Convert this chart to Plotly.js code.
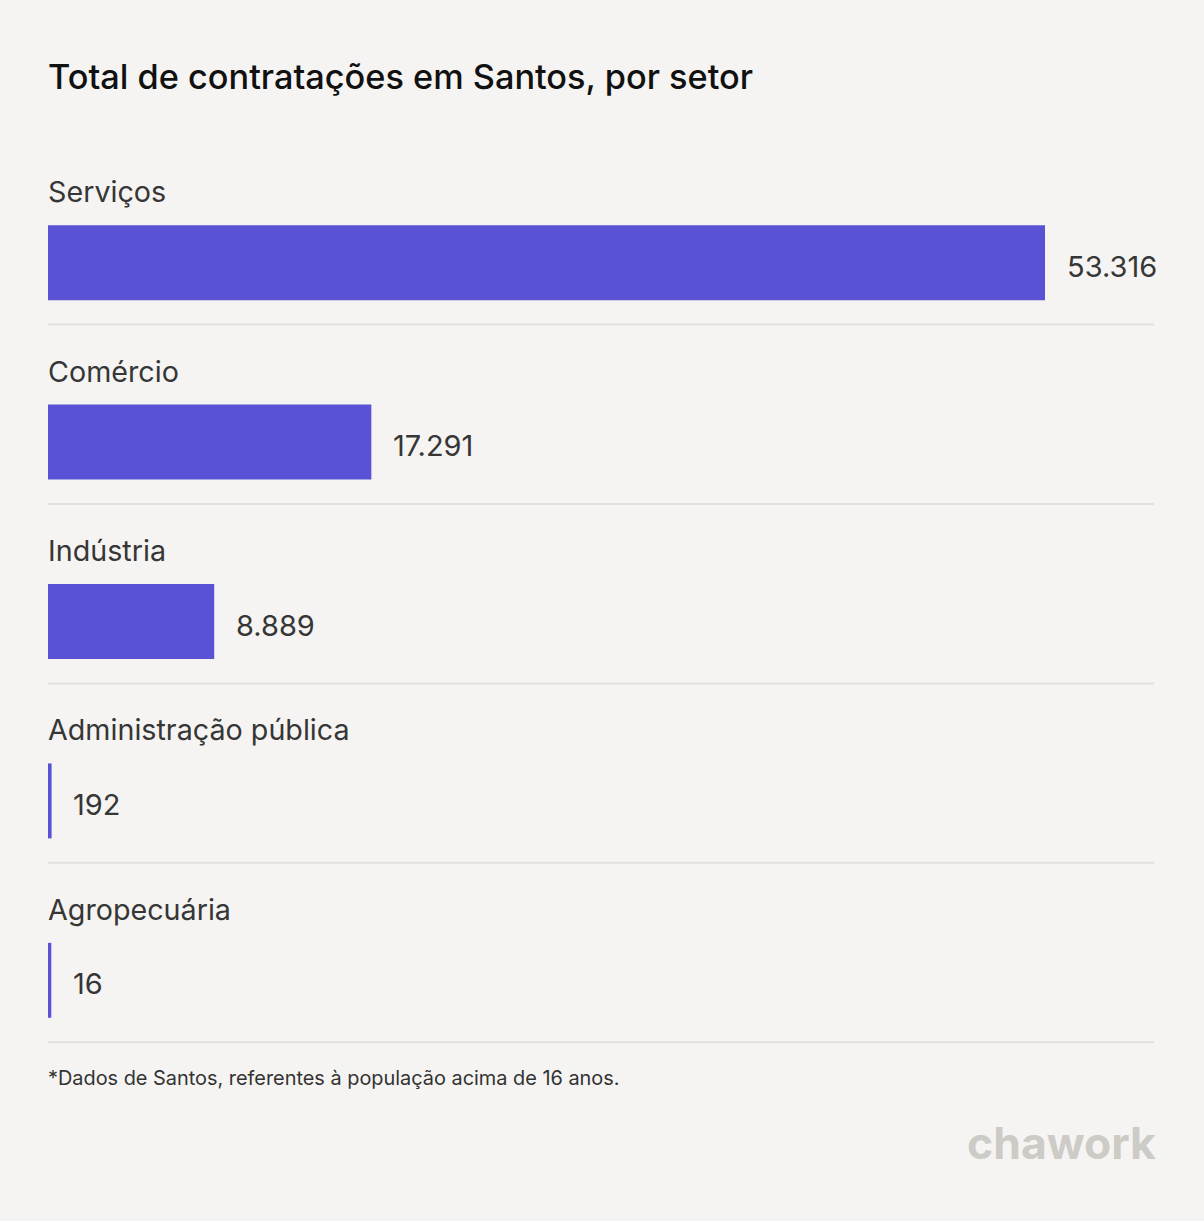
<!DOCTYPE html>
<html>
<head>
<meta charset="utf-8">
<script src="https://cdn.plot.ly/plotly-3.0.1.min.js"></script>
<style>
  html, body { margin: 0; padding: 0; background: #f5f4f2; }
  #chart { width: 1204px; height: 1221px; }
</style>
</head>
<body>
<div id="chart"></div>
<script>
const categories = ["Serviços", "Comércio", "Indústria", "Administração pública", "Agropecuária"];
const values = [53316, 17291, 8889, 192, 16];
const valueLabels = ["53.316", "17.291", "8.889", "192", "16"];
const titleText = "Total de contratações em Santos, por setor";
const footnote = "*Dados de Santos, referentes à população acima de 16 anos.";
const brand = "chawork";

const maxV = Math.max(...values);
// minimum visible bar width (tiny values still show as a thin bar)
const shown = values.map(v => Math.max(v, maxV * 0.0033));
const idx = categories.map((c, i) => i);

const barColor = "#5a52d5";
const textColor = "#363636";
const font = "Inter, 'Noto Sans', sans-serif";

const annotations = [];
categories.forEach((c, i) => {
  annotations.push({
    x: 0, xref: "x", y: i, yref: "y", text: c, showarrow: false,
    xanchor: "left", yanchor: "middle", yshift: 71, xshift: -2,
    font: { family: font, size: 28.7, color: textColor }
  });
  annotations.push({
    x: shown[i], xref: "x", y: i, yref: "y", text: valueLabels[i], showarrow: false,
    xanchor: "left", yanchor: "middle", xshift: 19.5, yshift: -3.5,
    font: { family: font, size: 29, color: textColor }
  });
});
annotations.push({
  x: 0, xref: "paper", y: 1078, yref: "paper", text: footnote, showarrow: false,
  xanchor: "left", yanchor: "middle", xshift: -2,
  font: { family: font, size: 19.9, color: "#333333" }
});
annotations.push({
  x: 1, xref: "paper", y: 0, yref: "paper", text: "<b>" + brand + "</b>", showarrow: false,
  xanchor: "right", yanchor: "middle", xshift: 4,
  font: { family: font, size: 44.5, color: "#cdcbc6" }
});

const shapes = idx.map(i => ({
  type: "line", xref: "paper", x0: 0, x1: 1, yref: "y", y0: i + 0.345, y1: i + 0.345,
  line: { color: "#e2e0dc", width: 2 }
}));

const H = 1221, T = 172.75, B = 150.75;
const plotH = H - T - B;
// convert pixel y positions to paper coords for footnote/brand
annotations[annotations.length - 2].y = (H - B - 1078) / plotH;
annotations[annotations.length - 1].y = (H - B - 1143) / plotH;

const data = [{
  type: "bar", orientation: "h",
  x: shown, y: idx,
  width: 75 / 179.5,
  marker: { color: barColor },
  hoverinfo: "skip"
}];

const layout = {
  width: 1204, height: 1221,
  paper_bgcolor: "#f5f4f2", plot_bgcolor: "#f5f4f2",
  margin: { l: 48, r: 50, t: T, b: B },
  showlegend: false,
  title: {
    text: titleText, x: 0, xref: "paper", xanchor: "left",
    y: 1 - 77 / H, yref: "container", yanchor: "middle",
    font: { family: font, size: 34.3, weight: 500, color: "#111111" }
  },
  xaxis: {
    range: [0, maxV * 1106 / 997], showgrid: false, zeroline: false,
    showticklabels: false, showline: false, fixedrange: true
  },
  yaxis: {
    type: "linear", range: [4.5, -0.5], showgrid: false, zeroline: false,
    showticklabels: false, showline: false, fixedrange: true
  },
  annotations: annotations,
  shapes: shapes
};

Plotly.newPlot("chart", data, layout, { displayModeBar: false, staticPlot: true });
</script>
</body>
</html>
